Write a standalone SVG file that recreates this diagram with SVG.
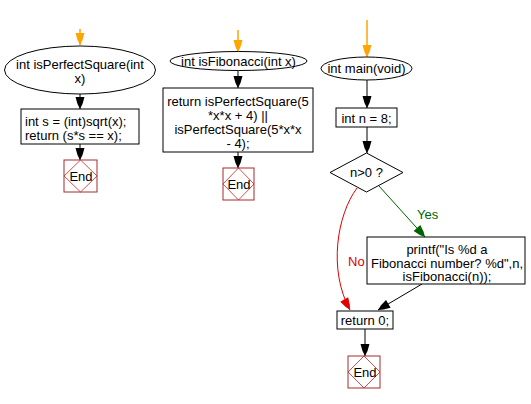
<svg xmlns="http://www.w3.org/2000/svg" width="531" height="404" viewBox="0 0 531 404">
<defs>
<style>
text{font-family:"Liberation Sans",Arial,sans-serif;font-size:13px;fill:#000}
.c{text-anchor:middle}
.box{fill:#fff;stroke:#000;stroke-width:1}
.endsq{fill:#fff;stroke:#a52a2a;stroke-width:1}
.enddi{fill:none;stroke:#cc2222;stroke-width:0.8}
.ln{fill:none;stroke:#000;stroke-width:1}
.or{fill:none;stroke:#ffa500;stroke-width:1.5}
.gr{fill:none;stroke:#006400;stroke-width:1}
.rd{fill:none;stroke:#e00000;stroke-width:1}
</style>
<marker id="ab" markerUnits="userSpaceOnUse" viewBox="-13 -5 14 10" refX="0" refY="0" markerWidth="14" markerHeight="10" orient="auto">
<path d="M0,0 L-5,-2.5 L-12,-4.5 L-12,4.5 L-5,2.5 Z" fill="#000"/>
</marker>
<marker id="ao" markerUnits="userSpaceOnUse" viewBox="-13 -5 14 10" refX="0" refY="0" markerWidth="14" markerHeight="10" orient="auto">
<path d="M0,0 L-5,-2.5 L-12,-4.5 L-12,4.5 L-5,2.5 Z" fill="#ffa500"/>
</marker>
<marker id="ag" markerUnits="userSpaceOnUse" viewBox="-13 -5 14 10" refX="0" refY="0" markerWidth="14" markerHeight="10" orient="auto">
<path d="M0,0 L-5,-2.5 L-12,-4.5 L-12,4.5 L-5,2.5 Z" fill="#006400"/>
</marker>
<marker id="ar" markerUnits="userSpaceOnUse" viewBox="-13 -5 14 10" refX="0" refY="0" markerWidth="14" markerHeight="10" orient="auto">
<path d="M0,0 L-5,-2.5 L-12,-4.5 L-12,4.5 L-5,2.5 Z" fill="#e00000"/>
</marker>
</defs>
<rect width="531" height="404" fill="#fff"/>

<g id="connectors">
<path class="or" d="M80,29 L80,45" marker-end="url(#ao)"/>
<path class="ln" d="M80,94 L80,109" marker-end="url(#ab)"/>
<path class="ln" d="M80,144 L80,160" marker-end="url(#ab)"/>
<path class="or" d="M238,30 L238,52" marker-end="url(#ao)"/>
<path class="ln" d="M238,70 L238,88" marker-end="url(#ab)"/>
<path class="ln" d="M238,152 L238,168" marker-end="url(#ab)"/>
<path class="or" d="M367,20 L367,57" marker-end="url(#ao)"/>
<path class="ln" d="M367,80 L367,108" marker-end="url(#ab)"/>
<path class="ln" d="M367,127 L367,153" marker-end="url(#ab)"/>
<path class="gr" d="M379,186 L425,237" marker-end="url(#ag)"/>
<text x="417" y="219" style="fill:#006400">Yes</text>
<path class="rd" d="M357,188 C337,215 328,270 350,310" marker-end="url(#ar)"/>
<text x="348" y="266" style="fill:#e00000">No</text>
<path class="ln" d="M422,284 L378,310" marker-end="url(#ab)"/>
<path class="ln" d="M365,329 L365,356" marker-end="url(#ab)"/>
</g>

<g id="isPerfectSquare">
<ellipse class="box" cx="80" cy="70" rx="75.5" ry="24"/>
<text class="c" x="80" y="69">int isPerfectSquare(int</text>
<text class="c" x="80" y="83">x)</text>
</g>
<g id="psBody">
<rect class="box" x="21" y="109" width="118" height="35"/>
<text x="25" y="126">int s = (int)sqrt(x);</text>
<text x="25" y="140">return (s*s == x);</text>
</g>
<g id="psEnd">
<rect class="endsq" x="64" y="160" width="33" height="32"/>
<path class="enddi" d="M80.5,160 L97,176 L80.5,192 L64,176 Z"/>
<text class="c" x="81" y="181">End</text>
</g>

<g id="isFibonacci">
<ellipse class="box" cx="238.5" cy="61" rx="68.5" ry="9.5"/>
<text class="c" x="238.5" y="65.5">int isFibonacci(int x)</text>
</g>
<g id="fibBody">
<rect class="box" x="163" y="88" width="150" height="64"/>
<text class="c" x="238" y="106">return isPerfectSquare(5</text>
<text class="c" x="238" y="120">*x*x + 4) ||</text>
<text class="c" x="238" y="134">isPerfectSquare(5*x*x</text>
<text class="c" x="238" y="148">- 4);</text>
</g>
<g id="fibEnd">
<rect class="endsq" x="223" y="168" width="31" height="32"/>
<path class="enddi" d="M238.5,168 L254,184 L238.5,200 L223,184 Z"/>
<text class="c" x="239" y="189">End</text>
</g>

<g id="main">
<ellipse class="box" cx="366.5" cy="68.5" rx="45.5" ry="11.5"/>
<text class="c" x="366.5" y="73">int main(void)</text>
</g>
<g id="assignN">
<rect class="box" x="336" y="108" width="61" height="19"/>
<text class="c" x="366.5" y="122.5">int n = 8;</text>
</g>
<g id="cond">
<path class="box" d="M366.5,153 L403,172.5 L366.5,192 L330,172.5 Z"/>
<text class="c" x="366.5" y="177">n&gt;0 ?</text>
</g>
<g id="printf">
<rect class="box" x="367" y="237" width="158" height="47"/>
<text class="c" x="447" y="254">printf("Is %d a</text>
<text class="c" x="447" y="267.5">Fibonacci number? %d",n,</text>
<text class="c" x="447" y="281">isFibonacci(n));</text>
</g>
<g id="return0">
<rect class="box" x="337" y="311" width="56" height="18"/>
<text class="c" x="365" y="325">return 0;</text>
</g>
<g id="mainEnd">
<rect class="endsq" x="348" y="356" width="32" height="32"/>
<path class="enddi" d="M364,356 L380,372 L364,388 L348,372 Z"/>
<text class="c" x="365" y="377">End</text>
</g>
</svg>
